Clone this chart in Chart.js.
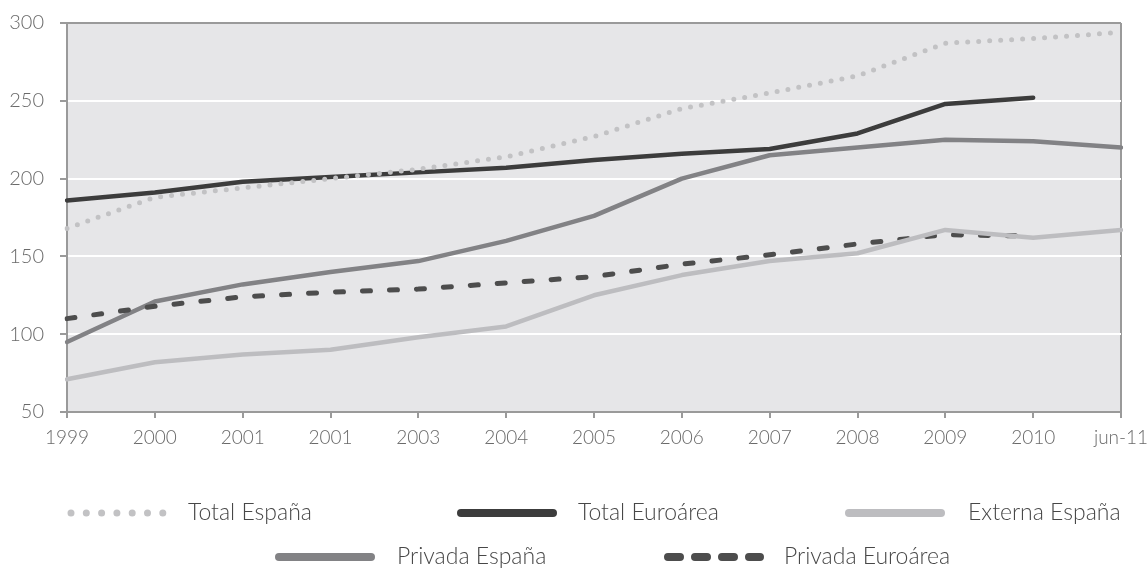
<!DOCTYPE html>
<html lang="es">
<head>
<meta charset="utf-8">
<title>Deuda: España y Euroárea</title>
<script src="https://cdn.jsdelivr.net/npm/chart.js@4.4.1/dist/chart.umd.min.js"></script>
<style>
  html, body { margin: 0; padding: 0; background: #fff; }
  #wrap { width: 1147px; height: 570px; }
</style>
</head>
<body>
<div id="wrap"><canvas id="grafico" width="1147" height="570"></canvas></div>
<script>
// periodos del eje X (el cuarto rótulo repite 2001)
const periodos = ['1999', '2000', '2001', '2001', '2003', '2004', '2005', '2006', '2007', '2008', '2009', '2010', 'jun-11'];

// series
const totalEspana     = [168, 188, 194, 200, 206, 214, 227, 245, 255, 266, 287, 290, 294];
const totalEuroarea   = [186, 191, 198, 201, 204, 207, 212, 216, 219, 229, 248, 252, null];
const externaEspana   = [71, 82, 87, 90, 98, 105, 125, 138, 147, 152, 167, 162, 167];
const privadaEspana   = [95, 121, 132, 140, 147, 160, 176, 200, 215, 220, 225, 224, 220];
const privadaEuroarea = [110, 118, 124, 127, 129, 133, 137, 145, 151, 158, 164, 163, null];

// eje Y
const yMin = 50;
const yMax = 300;
const yPaso = 50;

const gris = '#9a9a9a';
const fondo = '#e6e6e8';
const fuente = 'Lato, "Open Sans", sans-serif';

// leyenda en columnas fijas, dos filas
const huecosLeyenda = [
  { x: 67,  y: 513, texto: 188 },
  { x: 457, y: 513, texto: 578 },
  { x: 845, y: 513, texto: 968 },
  { x: 275, y: 557, texto: 397 },
  { x: 664, y: 557, texto: 784 }
];
const estiloMuestra = [
  { dash: [0, 15.3], ancho: 7 },
  { dash: [], ancho: 8 },
  { dash: [], ancho: 8 },
  { dash: [], ancho: 8 },
  { dash: [12, 15], ancho: 8 }
];

const fondoPlugin = {
  id: 'fondo',
  beforeDraw(chart) {
    const { ctx, chartArea: a } = chart;
    ctx.save();
    ctx.fillStyle = '#fff';
    ctx.fillRect(0, 0, chart.width, chart.height);
    ctx.fillStyle = fondo;
    ctx.fillRect(a.left, a.top, a.right - a.left, a.bottom - a.top);
    ctx.restore();
  }
};

const leyendaPlugin = {
  id: 'leyendaColumnas',
  afterDraw(chart) {
    const ctx = chart.ctx;
    ctx.save();
    chart.data.datasets.forEach((ds, i) => {
      const h = huecosLeyenda[i];
      const m = estiloMuestra[i];
      ctx.strokeStyle = ds.borderColor;
      ctx.lineWidth = m.ancho;
      ctx.lineCap = 'round';
      ctx.setLineDash(m.dash);
      ctx.beginPath();
      ctx.moveTo(h.x + 4, h.y);
      ctx.lineTo(h.x + 96, h.y);
      ctx.stroke();
      ctx.setLineDash([]);
      ctx.fillStyle = '#474747';
      ctx.font = '300 23px ' + fuente;
      ctx.textBaseline = 'middle';
      ctx.textAlign = 'left';
      ctx.fillText(ds.label, h.texto, h.y);
    });
    ctx.restore();
  }
};

new Chart(document.getElementById('grafico'), {
  type: 'line',
  data: {
    labels: periodos,
    datasets: [
      {
        label: 'Total España',
        data: totalEspana,
        borderColor: '#c2c2c4',
        borderWidth: 5,
        borderDash: [0, 11],
        borderCapStyle: 'round',
        order: 0
      },
      {
        label: 'Total Euroárea',
        data: totalEuroarea,
        borderColor: '#3c3c3c',
        borderWidth: 4.5,
        borderCapStyle: 'round',
        order: 4
      },
      {
        label: 'Externa España',
        data: externaEspana,
        borderColor: '#bdbdc0',
        borderWidth: 4.5,
        borderCapStyle: 'round',
        order: 1
      },
      {
        label: 'Privada España',
        data: privadaEspana,
        borderColor: '#828285',
        borderWidth: 4.5,
        borderCapStyle: 'round',
        order: 3
      },
      {
        label: 'Privada Euroárea',
        data: privadaEuroarea,
        borderColor: '#4d4d4d',
        borderWidth: 5,
        borderDash: [8, 19],
        borderCapStyle: 'round',
        order: 2
      }
    ]
  },
  options: {
    responsive: false,
    animation: false,
    spanGaps: false,
    elements: {
      line: { tension: 0, borderJoinStyle: 'round' },
      point: { radius: 0, hoverRadius: 0 }
    },
    layout: { padding: { top: 23, right: 26, left: 0, bottom: 108 } },
    plugins: {
      legend: { display: false },
      tooltip: { enabled: false }
    },
    scales: {
      x: {
        offset: false,
        afterFit(scale) {
          scale.height = 50;
          scale.paddingLeft = 0;
          scale.paddingRight = 0;
        },
        border: { display: true, color: gris, width: 2 },
        grid: {
          drawOnChartArea: true,
          color: (c) => (c.index === periodos.length - 1 ? gris : 'rgba(0,0,0,0)'),
          lineWidth: 2,
          tickColor: gris,
          tickLength: 6,
          tickWidth: 2
        },
        ticks: {
          color: '#6a6a6a',
          font: { family: fuente, size: 19, weight: 300 },
          padding: 8,
          maxRotation: 0,
          autoSkip: false
        }
      },
      y: {
        min: yMin,
        max: yMax,
        afterFit(scale) {
          scale.width = 67;
          scale.paddingTop = 0;
          scale.paddingBottom = 0;
        },
        border: { display: true, color: gris, width: 2 },
        grid: {
          color: (c) => (c.tick && (c.tick.value === yMax || c.tick.value === yMin) ? gris : '#ffffff'),
          lineWidth: 2,
          tickColor: gris,
          tickLength: 7,
          tickWidth: 2
        },
        ticks: {
          stepSize: yPaso,
          color: '#6a6a6a',
          font: { family: fuente, size: 20, weight: 300 },
          padding: 16
        }
      }
    }
  },
  plugins: [fondoPlugin, leyendaPlugin]
});
</script>
</body>
</html>
